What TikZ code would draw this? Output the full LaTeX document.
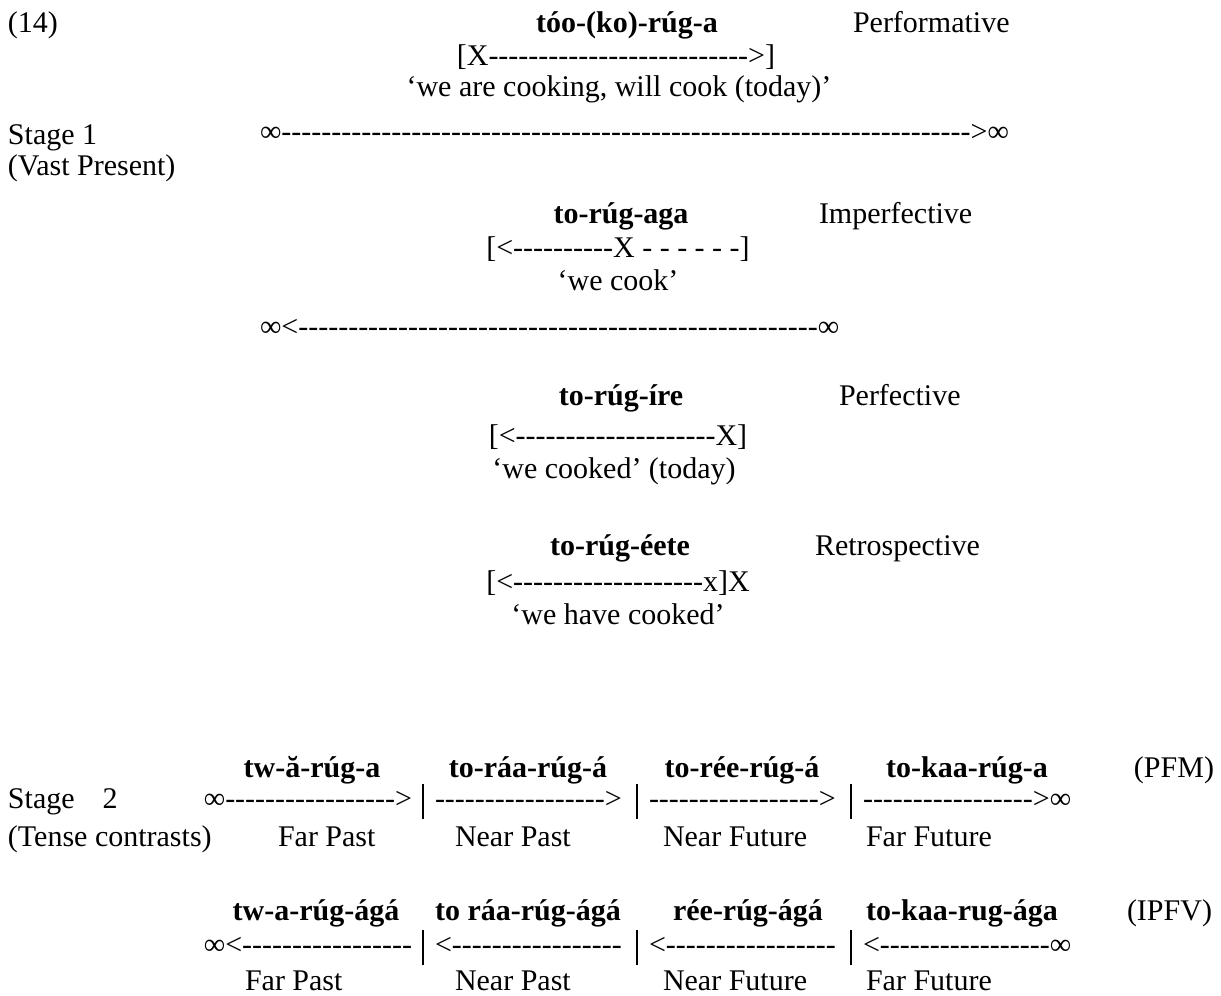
\documentclass[tikz,border=0pt]{standalone}
\usepackage{fontspec}
\setmainfont{Liberation Serif}[Ligatures=TeXOff]
\ExplSyntaxOn
\NewDocumentCommand\hyph{m}{\prg_replicate:nn{#1}{-}}
\ExplSyntaxOff
\begin{document}
\begin{tikzpicture}[x=1pt,y=-1pt,
  every node/.style={inner sep=0pt,outer sep=0pt,font=\fontsize{30}{36}\selectfont},
  txt/.style={anchor=base west},
  ctr/.style={anchor=base},
  rgt/.style={anchor=base east},
  bld/.style={font=\fontsize{30}{36}\selectfont\bfseries},
  sepbar/.style={line width=2.6pt}]
\useasboundingbox (0,0) rectangle (1221,996);
% Stage 1
\node[txt] (n14) at (8,32) {(14)};
\node[ctr,bld] (f1) at (627,32) {tóo-(ko)-rúg-a};
\node[txt] (l1) at (853,32) {Performative};
\node[ctr] (d1) at (616,65) {[X\hyph{26}>]};
\node[ctr] (g1) at (619,96) {‘we are cooking, will cook (today)’};
\node[txt] (s1) at (8,144) {Stage 1};
\node[txt] (t1) at (260,141) {∞\hyph{69}>∞};
\node[txt] (s1b) at (8,175) {(Vast Present)};
\node[ctr,bld] (f2) at (621,223) {to-rúg-aga};
\node[txt] (l2) at (819,223) {Imperfective};
\node[ctr] (d2) at (618,257) {[<\hyph{10}X - - - - - -]};
\node[ctr] (g2) at (618,290) {‘we cook’};
\node[txt] (t2) at (260,336) {∞<\hyph{52}∞};
\node[ctr,bld] (f3) at (621,405) {to-rúg-íre};
\node[txt] (l3) at (839,405) {Perfective};
\node[ctr] (d3) at (618,445) {[<\hyph{20}X]};
\node[ctr] (g3) at (614,478) {‘we cooked’ (today)};
\node[ctr,bld] (f4) at (620,555) {to-rúg-éete};
\node[txt] (l4) at (815,555) {Retrospective};
\node[ctr] (d4) at (618,591) {[<\hyph{19}x]X};
\node[ctr] (g4) at (618,624) {‘we have cooked’};
% Stage 2 PFM
\node[ctr,bld] (pb1) at (312,777) {tw-ă-rúg-a};
\node[ctr,bld] (pb2) at (528,777) {to-ráa-rúg-á};
\node[ctr,bld] (pb3) at (742,777) {to-rée-rúg-á};
\node[ctr,bld] (pb4) at (967,777) {to-kaa-rúg-a};
\node[rgt] (pfm) at (1214,777) {(PFM)};
\node[txt] (s2) at (8,808) {Stage\hspace{28pt}2};
\node[rgt] (p1) at (412,808) {∞\hyph{17}>};
\node[txt] (p2) at (435,808) {\hyph{17}>};
\node[txt] (p3) at (649,808) {\hyph{17}>};
\node[txt] (p4) at (863,808) {\hyph{17}>∞};
\foreach \x/\n in {423/1,637/2,851/3}{
  \draw[sepbar] (\x,784) coordinate (pt\n) -- (\x,819) coordinate (pu\n);
}
\node[txt] (s2b) at (8,846) {(Tense contrasts)};
\node[txt] (pl1) at (278,846) {Far Past};
\node[txt] (pl2) at (455,846) {Near Past};
\node[txt] (pl3) at (663,846) {Near Future};
\node[txt] (pl4) at (866,846) {Far Future};
% Stage 2 IPFV
\node[ctr,bld] (ib1) at (316,920) {tw-a-rúg-ágá};
\node[ctr,bld] (ib2) at (528,920) {to ráa-rúg-ágá};
\node[ctr,bld] (ib3) at (748,920) {rée-rúg-ágá};
\node[ctr,bld] (ib4) at (962,920) {to-kaa-rug-ága};
\node[rgt] (ipfv) at (1212,920) {(IPFV)};
\node[rgt] (i1) at (412,954) {∞<\hyph{17}};
\node[txt] (i2) at (435,954) {<\hyph{17}};
\node[txt] (i3) at (649,954) {<\hyph{17}};
\node[txt] (i4) at (863,954) {<\hyph{17}∞};
\foreach \x/\n in {423/1,637/2,851/3}{
  \draw[sepbar] (\x,930) coordinate (it\n) -- (\x,965) coordinate (iu\n);
}
\node[txt] (il1) at (245,990) {Far Past};
\node[txt] (il2) at (455,990) {Near Past};
\node[txt] (il3) at (663,990) {Near Future};
\node[txt] (il4) at (866,990) {Far Future};
\end{tikzpicture}
\end{document}
